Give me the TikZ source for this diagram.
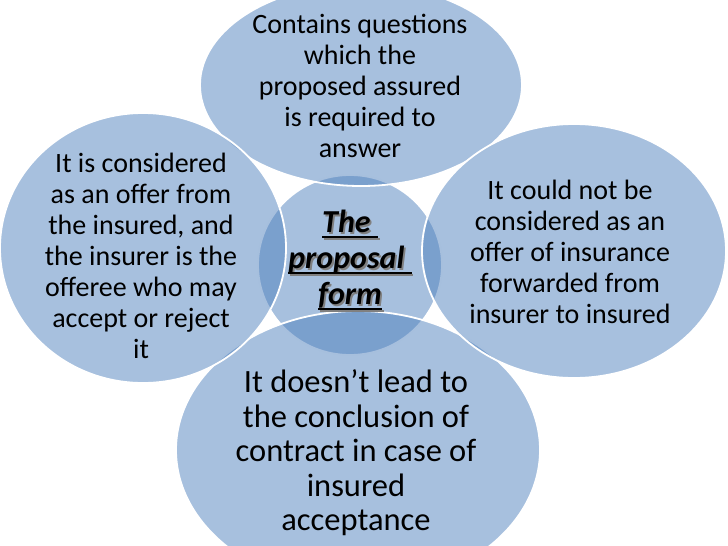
\documentclass[tikz,border=0pt]{standalone}
\usepackage{fontspec}
\setmainfont{Carlito}
\newcommand\myul[1]{\leavevmode\setbox0\hbox{#1}\rlap{\rule[-5pt]{\wd0}{2pt}}\box0}
\newcommand\shd[1]{\leavevmode\rlap{\kern1.8pt\raisebox{-1.8pt}{\color{black!50}#1}}#1}
\definecolor{accent}{RGB}{79,129,189}
\tikzset{
  bubble/.style={fill=accent, fill opacity=0.5, draw=white, draw opacity=1, line width=1.8pt},
  txt/.style={align=center, font=\fontsize{28}{31}\selectfont, text=black, inner sep=0pt},
  bigtxt/.style={align=center, font=\fontsize{32.5}{34.5}\selectfont, text=black, inner sep=0pt},
  titletxt/.style={align=center, font=\fontsize{32}{36}\selectfont\bfseries\itshape, inner sep=0pt}
}
\begin{document}
\begin{tikzpicture}[x=1pt,y=-1pt]
\useasboundingbox (0,0) rectangle (728,546);
\clip (0,0) rectangle (728,546);
% shapes, back to front
\path[bubble] (350,265) ellipse [x radius=92, y radius=90];
\path[bubble] (361,85) ellipse [x radius=161, y radius=101];
\path[bubble] (358,450) ellipse [x radius=182, y radius=139];
\path[bubble] (574,251) ellipse [x radius=152, y radius=127];
\path[bubble] (143,248) ellipse [x radius=143, y radius=135];
% texts
\node[txt] (top) at (360,86) {Contains questions\\which the\\proposed assured\\is required to\\answer};
\node[txt] (left) at (141,256) {It is considered\\as an offer from\\the insured, and\\the insurer is the\\offeree who may\\accept or reject\\it};
\node[txt] (right) at (570,252) {It could not be\\considered as an\\offer of insurance\\forwarded from\\insurer to insured};
\node[bigtxt] (bottom) at (356,453) {It doesn’t lead to\\the conclusion of\\contract in case of\\insured\\acceptance};
\node[titletxt] (title) at (350,261) {\shd{\myul{The\ }}\\\shd{\myul{proposal\ }}\\\shd{\myul{form}}};
\end{tikzpicture}
\end{document}
